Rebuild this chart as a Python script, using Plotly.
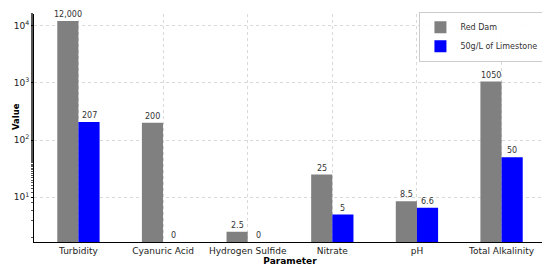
import math
import plotly.graph_objects as go

params = ['Turbidity', 'Cyanuric Acid', 'Hydrogen Sulfide', 'Nitrate', 'pH', 'Total Alkalinity']
red_dam = [12000, 200, 2.5, 25, 8.5, 1050]
limestone = [207, 0, 0, 5, 6.6, 50]
red_dam_labels = ['12,000', '200', '2.5', '25', '8.5', '1050']
limestone_labels = ['207', '0', '0', '5', '6.6', '50']
y_ticks = [10, 100, 1000, 10000]
y_tick_text = ['10<sup>1</sup>', '10<sup>2</sup>', '10<sup>3</sup>', '10<sup>4</sup>']

ylog_range = [0.22, 4.2]
w = 0.25
idx = list(range(len(params)))

fig = go.Figure()
fig.add_trace(go.Bar(x=idx, y=red_dam, width=w, offset=-w, name='Red Dam',
                     marker_color='#808080', marker_line_width=0))
fig.add_trace(go.Bar(x=idx, y=limestone, width=w, offset=0, name='50g/L of Limestone',
                     marker_color='#0000ff', marker_line_width=0))

# value labels above each bar (zeros sit on the axis floor); log axis -> log10 coords
for vals, labels, dx in [(red_dam, red_dam_labels, -w / 2), (limestone, limestone_labels, w / 2)]:
    for i, v, t in zip(idx, vals, labels):
        fig.add_annotation(x=i + dx, y=math.log10(v) if v > 0 else ylog_range[0], text=t,
                           showarrow=False, yanchor='bottom', yshift=0,
                           font=dict(size=8, color='#333333'))

# y title as an annotation so it sits a bit above the 10^2 label, like the original
fig.add_annotation(text='<b>Value</b>', xref='paper', yref='paper', x=-0.05, y=0.55,
                   xanchor='left', yanchor='middle', textangle=-90, showarrow=False,
                   font=dict(size=8.5, color='black'))

# page body has an 8px margin, so the figure is sized to fit the 550x272 window
fig.update_layout(
    width=542, height=264,
    margin=dict(l=26, r=4, t=4, b=30),
    plot_bgcolor='white', paper_bgcolor='white',
    font=dict(family='DejaVu Sans', size=9, color='black'),
    barmode='overlay',
    legend=dict(x=0.995, y=1.01, xanchor='right', yanchor='top',
                bgcolor='rgba(255,255,255,0.9)', bordercolor='#cccccc', borderwidth=1,
                font=dict(size=8, color='#333333'), itemwidth=30, tracegroupgap=0),
)
fig.update_xaxes(
    tickmode='array', tickvals=idx, ticktext=params, range=[-0.525, 5.525],
    showline=True, linecolor='black', linewidth=1, automargin=False,
    showgrid=True, gridcolor='#d9d9d9', griddash='dot', gridwidth=0.8,
    ticks='', zeroline=False,
    title=dict(text='<b>Parameter</b>', font=dict(size=9), standoff=2),
    tickfont=dict(size=9, color='#222222'),
)
fig.update_yaxes(
    type='log', range=ylog_range, tickmode='array', tickvals=y_ticks, ticktext=y_tick_text,
    showline=True, linecolor='black', linewidth=1, automargin=False,
    showgrid=True, gridcolor='#d9d9d9', griddash='dot', gridwidth=0.8,
    ticks='outside', ticklen=2, tickcolor='black', zeroline=False,
    minor=dict(ticks='outside', ticklen=2, tickcolor='#555555', showgrid=False),
    tickfont=dict(size=9, color='#222222'),
)

fig.write_html("out.html")
